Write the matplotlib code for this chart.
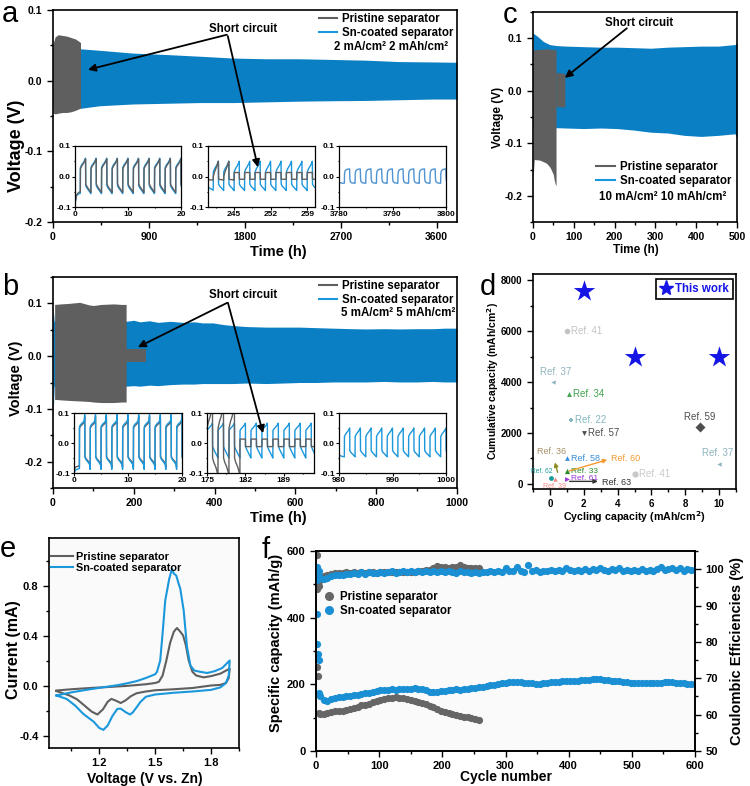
import numpy as np
import matplotlib.pyplot as plt
from matplotlib.lines import Line2D
from matplotlib.patches import ConnectionPatch
from matplotlib.ticker import MultipleLocator, FormatStrFormatter

plt.rcParams['font.family'] = ['Liberation Sans', 'DejaVu Sans']
plt.rcParams['font.weight'] = 'bold'
plt.rcParams['axes.labelweight'] = 'bold'
plt.rcParams['axes.linewidth'] = 1.2
plt.rcParams['axes.unicode_minus'] = False

GRAY = '#5f5f5f'
BLUE = '#0a7fc4'
LBLUE = '#1b97dc'
STAR = '#1515e6'

# ---------------- data ----------------
# a: 2 mA/cm2, envelope of the voltage profile (h, V)
a_gray_t = [0, 20, 50, 90, 130, 170, 210, 240, 258]
a_gray_up = [0.052, 0.062, 0.065, 0.064, 0.063, 0.061, 0.059, 0.056, 0.054]
a_gray_lo = [-0.046, -0.047, -0.046, -0.045, -0.045, -0.044, -0.042, -0.040, -0.039]
a_blue_t = [0, 265, 437, 750, 1062, 1375, 1688, 2000, 2312, 2625, 2937, 3250, 3562, 3790]
a_blue_up = [0.045, 0.045, 0.043, 0.039, 0.037, 0.0346, 0.032, 0.031, 0.031, 0.030, 0.029, 0.027, 0.0265, 0.026]
a_blue_lo = [-0.039, -0.039, -0.0355, -0.033, -0.032, -0.031, -0.031, -0.030, -0.029, -0.0284, -0.028, -0.027, -0.026, -0.026]

# b: 5 mA/cm2
b_gray_t = [4, 20, 40, 66, 90, 100, 120, 150, 170, 181]
b_gray_up = [0.098, 0.099, 0.100, 0.102, 0.097, 0.096, 0.098, 0.099, 0.098, 0.098]
b_gray_lo = [-0.082, -0.083, -0.084, -0.085, -0.086, -0.087, -0.088, -0.088, -0.087, -0.087]
b_short_t = [181, 231]
b_short_up = [0.013, 0.013]
b_short_lo = [-0.011, -0.011]
b_blue_t = [0, 3, 181, 200, 215, 239, 260, 290, 322, 350, 370, 396, 420, 445, 480, 528, 570, 610,
            650, 693, 740, 775, 820, 858, 900, 940, 970, 1000]
b_blue_up = [0.095, 0.066, 0.066, 0.068, 0.065, 0.067, 0.064, 0.066, 0.064, 0.065, 0.063, 0.063, 0.060,
             0.058, 0.056, 0.055, 0.055, 0.055, 0.054, 0.053, 0.052, 0.0515, 0.052, 0.0515, 0.052, 0.052,
             0.053, 0.053]
b_blue_lo = [-0.12, -0.057, -0.057, -0.056, -0.057, -0.055, -0.056, -0.054, -0.053, -0.053, -0.052, -0.052,
             -0.052, -0.052, -0.051, -0.052, -0.051, -0.050, -0.050, -0.049, -0.049, -0.049, -0.048,
             -0.049, -0.049, -0.048, -0.049, -0.049]

# c: 10 mA/cm2
c_gray_t = [0, 3, 16, 25, 33, 41, 45, 50, 52, 55, 56.5]
c_gray_up = [0.078, 0.078, 0.079, 0.079, 0.080, 0.079, 0.079, 0.078, 0.079, 0.078, 0.078]
c_gray_lo = [-0.170, -0.131, -0.132, -0.135, -0.138, -0.145, -0.151, -0.160, -0.170, -0.179, -0.180]
c_short_t = [56.5, 78]
c_short_up = [0.035, 0.033]
c_short_lo = [-0.030, -0.031]
c_blue_t = [0, 12, 25, 41, 58, 82, 124, 165, 206, 248, 289, 330, 371, 412, 454, 495, 500]
c_blue_up = [0.110, 0.103, 0.094, 0.088, 0.086, 0.085, 0.084, 0.083, 0.083, 0.082, 0.081, 0.083, 0.084,
             0.085, 0.085, 0.088, 0.091]
c_blue_lo = [-0.070, -0.070, -0.070, -0.070, -0.0704, -0.071, -0.072, -0.071, -0.072, -0.075, -0.079,
             -0.0805, -0.085, -0.087, -0.085, -0.082, -0.090]

# inset profiles: one 2 h cycle (plating half then stripping half), times within the cycle
cyc_t = [0, 0.02, 0.25, 0.6, 0.9, 0.98, 1.0, 1.02, 1.25, 1.6, 1.9, 2.0]
sq_t = [0, 0.02, 1.0, 1.02, 2.0]
rnd_t = [0, 0.03, 0.12, 0.4, 0.97, 1.0, 1.03, 1.12, 1.4, 1.97, 2.0]
half_t = [0, 0.3, 0.7, 1.0]

a1_blue_first = [-0.090, -0.062, -0.057, -0.055]
a1_gray_first = [-0.085, -0.060, -0.052, -0.050]
a1_blue = [-0.055, 0.030, 0.038, 0.046, 0.056, 0.060, 0.052, -0.030, -0.038, -0.046, -0.054, -0.056]
a1_gray = [-0.050, 0.025, 0.034, 0.043, 0.053, 0.058, 0.050, -0.025, -0.033, -0.042, -0.050, -0.052]
a2_blue_first = [-0.035, -0.038, -0.042, -0.045]
a2_blue = [-0.045, 0.015, 0.025, 0.035, 0.045, 0.050, 0.040, -0.025, -0.032, -0.038, -0.044, -0.046]
a2_gray_first = [-0.010, -0.011, -0.011, -0.012]
a2_gray = [-0.012, 0.000, 0.015, 0.030, 0.045, 0.050, 0.040, -0.008, -0.010, -0.010, -0.012, -0.012]
a2_short = [-0.009, 0.013, 0.013, -0.009, -0.009]
a3_blue_first = [-0.020, -0.021, -0.022, -0.022]
a3_blue = [-0.022, 0.008, 0.018, 0.023, 0.025, 0.012, -0.008, -0.017, -0.021, -0.022, -0.022]

b1_blue_first = [-0.100, -0.090, -0.087, -0.085]
b1_gray_first = [-0.090, -0.080, -0.078, -0.076]
b1_blue = [-0.085, 0.055, 0.062, 0.068, 0.075, 0.095, 0.088, -0.048, -0.056, -0.064, -0.072, -0.088]
b1_gray = [-0.078, 0.050, 0.057, 0.063, 0.070, 0.088, 0.080, -0.045, -0.053, -0.060, -0.068, -0.080]
b2_blue = [-0.050, 0.042, 0.048, 0.055, 0.062, 0.066, 0.060, -0.012, -0.022, -0.035, -0.046, -0.050]
b2_gray = [-0.090, 0.050, 0.070, 0.090, 0.120, 0.140, 0.120, -0.050, -0.065, -0.080, -0.100, -0.120]
b2_short = [-0.012, 0.013, 0.013, -0.012, -0.012]
b3_blue_first = [-0.040, -0.043, -0.045, -0.046]
b3_blue = [-0.046, 0.022, 0.030, 0.038, 0.046, 0.050, 0.045, -0.025, -0.032, -0.038, -0.044, -0.046]

# d: comparison
this_x = [2, 5, 10]
this_y = [7600, 5000, 5000]
ref_names = ['Ref. 41', 'Ref. 37', 'Ref. 34', 'Ref. 22', 'Ref. 57', 'Ref. 59', 'Ref. 37',
             'Ref. 58', 'Ref. 33', 'Ref. 61', 'Ref. 62', 'Ref. 39', 'Ref. 41']
ref_x = [1.0, 0.2, 1.1, 1.25, 2.0, 8.85, 10.0, 1.0, 1.0, 1.0, 0.05, 0.3, 5.0]
ref_y = [6000, 4000, 3550, 2500, 2000, 2220, 800, 1000, 500, 200, 240, 200, 400]
arrow_names = ['Ref. 60', 'Ref. 63', 'Ref. 36']
arrow_x0 = [1.0, 1.0, 0.5]
arrow_y0 = [480, 100, 350]
arrow_x1 = [3.55, 3.0, 0.25]
arrow_y1 = [980, 100, 950]

# e: CV curves (V vs Zn, mA)
cv_gray_v = [0.97, 1.05, 1.15, 1.25, 1.35, 1.45, 1.50, 1.52, 1.54, 1.56, 1.58, 1.60, 1.617, 1.635, 1.65,
             1.665, 1.68, 1.70, 1.72, 1.76, 1.80, 1.85, 1.90,
             1.895, 1.88, 1.85, 1.80, 1.70, 1.60, 1.50, 1.45, 1.40, 1.37, 1.34, 1.315, 1.29, 1.265,
             1.245, 1.22, 1.19, 1.16, 1.12, 1.08, 1.04, 1.00, 0.97]
cv_gray_i = [-0.040, -0.030, -0.020, -0.012, -0.003, 0.010, 0.020, 0.030, 0.080, 0.200, 0.340, 0.430,
             0.460, 0.430, 0.400, 0.320, 0.200, 0.110, 0.080, 0.065, 0.075, 0.095, 0.135,
             0.060, 0.020, 0.005, 0.000, -0.020, -0.030, -0.038, -0.048, -0.062, -0.085, -0.120, -0.140,
             -0.122, -0.107, -0.130, -0.190, -0.232, -0.210, -0.160, -0.110, -0.080, -0.060, -0.045]
cv_blue_v = [0.97, 1.05, 1.15, 1.25, 1.30, 1.35, 1.40, 1.45, 1.50, 1.51, 1.527, 1.54, 1.554, 1.575,
             1.59, 1.60, 1.613, 1.625, 1.635, 1.653, 1.671, 1.689, 1.71, 1.74, 1.78, 1.82, 1.86, 1.90,
             1.895, 1.88, 1.85, 1.80, 1.70, 1.60, 1.50, 1.45, 1.42, 1.40, 1.38, 1.365, 1.34, 1.315,
             1.297, 1.27, 1.245, 1.222, 1.20, 1.17, 1.114, 1.07, 1.024, 0.97]
cv_blue_i = [-0.080, -0.055, -0.030, -0.008, 0.003, 0.018, 0.035, 0.060, 0.090, 0.110, 0.200, 0.420,
             0.680, 0.850, 0.933, 0.895, 0.880, 0.820, 0.773, 0.600, 0.307, 0.160, 0.120, 0.110, 0.100,
             0.115, 0.140, 0.200,
             0.080, 0.020, -0.015, -0.035, -0.048, -0.058, -0.072, -0.090, -0.133, -0.175, -0.215,
             -0.232, -0.212, -0.185, -0.187, -0.245, -0.320, -0.355, -0.340, -0.290, -0.227, -0.160,
             -0.107, -0.080]

# f: cycling
f_gray_early_n = [1, 2, 3, 4]
f_gray_early_cap = [587, 252, 225, 115]
f_gray_early_ce_n = [2, 4, 8]
f_gray_early_ce = [94.5, 95.5, 97.8]
f_gray_n = np.arange(6, 259, 6)
f_gray_cap = [112, 110, 114, 117, 120, 119, 121, 123, 125, 128,
              133, 137, 139, 142, 147, 151, 154, 157, 159, 160,
              161, 160, 159, 156, 153, 150, 146, 143, 140, 136,
              131, 127, 121, 118, 114, 112, 109, 105, 102, 101,
              98, 96, 93]
f_gray_ce = [97.0, 98.0, 98.5, 98.8, 98.9, 99.0, 99.0, 99.1, 99.0, 99.1,
             99.0, 99.1, 99.0, 99.2, 99.1, 99.0, 99.2, 99.1, 99.2, 99.2,
             99.1, 99.2, 99.3, 99.2, 99.3, 99.3, 99.4, 99.5, 99.7, 99.9,
             100.3, 100.8, 100.6, 100.5, 100.4, 100.5, 100.7, 101.1, 100.6, 100.4,
             100.3, 100.4, 100.2]
f_blue_early_n = [1, 2, 3, 4, 5]
f_blue_early_cap = [410, 322, 292, 272, 175]
f_blue_early_ce = [100.5, 97.0, 98.5, 99.5, 98.0]
f_blue_n = np.arange(6, 601, 6)
f_blue_cap = [165, 152, 150, 156, 160, 162, 161, 164, 165, 167,
              168, 170, 173, 175, 178, 181, 182, 184, 183, 185,
              184, 186, 187, 186, 187, 188, 187, 186, 182, 178,
              176, 177, 179, 181, 182, 184, 185, 184, 186, 187,
              188, 190, 192, 193, 194, 197, 198, 200, 203, 205,
              206, 207, 208, 206, 205, 204, 203, 202, 201, 203,
              204, 206, 207, 208, 209, 210, 210, 211, 211, 212,
              213, 214, 215, 216, 217, 214, 212, 211, 210, 210,
              208, 206, 205, 204, 204, 203, 204, 204, 203, 204,
              205, 206, 207, 206, 205, 204, 203, 202, 201, 200]
f_blue_ce = [97.5, 97.2, 97.6, 98.0, 98.3, 98.5, 98.4, 98.8, 98.6, 99.0,
             98.7, 99.1, 98.8, 99.2, 98.9, 99.0, 99.3, 98.9, 99.2, 99.4,
             99.0, 99.3, 99.5, 99.1, 99.4, 99.2, 99.5, 99.3, 99.6, 99.2,
             99.4, 99.1, 99.5, 99.3, 99.6, 99.2, 99.0, 99.4, 99.1, 99.3,
             99.0, 99.2, 98.9, 99.3, 99.1, 99.4, 99.2, 99.5, 99.3, 100.2,
             99.4, 99.6, 100.5, 99.5, 99.2, 101.2, 99.4, 99.7, 99.3, 99.6,
             99.4, 99.8, 99.5, 99.9, 99.6, 100.3, 99.7, 99.4, 99.8, 99.5,
             100.0, 99.6, 100.1, 99.7, 100.3, 99.8, 99.5, 100.0, 99.7, 100.2,
             99.6, 99.9, 99.5, 99.8, 99.6, 100.0, 99.4, 99.8, 99.6, 100.1,
             100.5, 99.7, 100.0, 100.4, 99.8, 100.2, 99.6, 100.0, 99.7, 99.9]


def repeat_cycle(start, n, rel_t, rel_v):
    t = np.concatenate([start + 2 * k + np.asarray(rel_t, float) for k in range(n)])
    return t, np.tile(rel_v, n)


def join(*parts):
    return (np.concatenate([np.asarray(p[0], float) for p in parts]),
            np.concatenate([np.asarray(p[1], float) for p in parts]))


# ---------------- layout ----------------
fig = plt.figure(figsize=(7.5, 7.86), dpi=100)
W, H = 750.0, 786.0


def box(l, t, r, b):
    return [l / W, 1 - b / H, (r - l) / W, (b - t) / H]


def style(ax, fs):
    ax.tick_params(which='both', direction='out', labelsize=fs, width=1.0, top=False, right=False)
    ax.tick_params(which='major', length=4)
    ax.tick_params(which='minor', length=2)


def arrow(ax, p0, p1):
    fig.add_artist(ConnectionPatch(xyA=p0, coordsA=ax.transData, xyB=p1, coordsB=ax.transData,
                                   arrowstyle='-|>', mutation_scale=11, lw=1.3, color='k', zorder=5))


def inset(rect, xlim, xmaj, xmin, curves):
    ax = fig.add_axes(rect)
    for (t, v, c) in curves:
        ax.plot(t, v, color=c, lw=1.0)
    ax.set_xlim(*xlim)
    ax.set_ylim(-0.1, 0.1)
    ax.xaxis.set_major_locator(MultipleLocator(xmaj))
    ax.xaxis.set_minor_locator(MultipleLocator(xmin))
    ax.yaxis.set_major_locator(MultipleLocator(0.1))
    ax.yaxis.set_minor_locator(MultipleLocator(0.05))
    ax.yaxis.set_major_formatter(FormatStrFormatter('%.1f'))
    ax.tick_params(which='both', direction='out', labelsize=6, width=0.8, pad=1)
    ax.tick_params(which='major', length=2)
    ax.tick_params(which='minor', length=1)
    for s in ax.spines.values():
        s.set_linewidth(0.9)
    return ax


def legend_lines(ax, anchor, loc, fs):
    h = [Line2D([], [], color=GRAY, lw=1.5), Line2D([], [], color=LBLUE, lw=1.5)]
    ax.legend(h, ['Pristine separator', 'Sn-coated separator'], loc=loc, bbox_to_anchor=anchor,
              frameon=False, fontsize=fs, handlelength=1.6, handletextpad=0.4, labelspacing=0.15,
              borderaxespad=0, borderpad=0)


# ---- a
ax = fig.add_axes(box(53, 10, 457, 222))
ax.fill_between(a_blue_t, a_blue_lo, a_blue_up, color=BLUE, lw=0)
ax.fill_between(a_gray_t, a_gray_lo, a_gray_up, color=GRAY, lw=0)
ax.set_xlim(0, 3790)
ax.set_ylim(-0.2, 0.1)
ax.xaxis.set_major_locator(MultipleLocator(900))
ax.xaxis.set_minor_locator(MultipleLocator(450))
ax.yaxis.set_major_locator(MultipleLocator(0.1))
ax.yaxis.set_minor_locator(MultipleLocator(0.05))
ax.yaxis.set_major_formatter(FormatStrFormatter('%.1f'))
style(ax, 7.5)
ax.set_xlabel('Time (h)', fontsize=10.5)
ax.xaxis.set_label_coords(0.557, -0.11)
ax.set_ylabel('Voltage (V)', fontsize=13)
ax.yaxis.set_label_coords(-0.069, 0.36)
legend_lines(ax, (0.99, 0.985), 'upper right', 8.3)
ax.text(0.978, 0.825, '2 mA/cm² 2 mAh/cm²', transform=ax.transAxes, ha='right', va='center', fontsize=8.3)
ax.text(1781, 0.073, 'Short circuit', ha='center', va='center', fontsize=8.3)
arrow(ax, (1631, 0.065), (328, 0.0155))
arrow(ax, (1640, 0.063), (1922, -0.1225))

inset(box(75, 146, 181, 207), (0, 20), 10, 5,
      [join((half_t, a1_blue_first), repeat_cycle(1, 10, cyc_t, a1_blue)) + (LBLUE,),
       join((half_t, a1_gray_first), repeat_cycle(1, 10, cyc_t, a1_gray)) + (GRAY,)])
inset(box(208, 146, 315, 207), (240, 260.5), 7, 3.5,
      [join((np.add(half_t, 240), a2_blue_first), repeat_cycle(241, 10, cyc_t, a2_blue)) + (LBLUE,),
       join((np.add(half_t, 240), a2_gray_first), repeat_cycle(241, 2, cyc_t, a2_gray),
            repeat_cycle(245, 8, sq_t, a2_short)) + (GRAY,)]).set_xticks([245, 252, 259])
inset(box(339, 146, 446, 207), (3780, 3800), 10, 5,
      [join((np.add(half_t, 3780), a3_blue_first), repeat_cycle(3781, 10, rnd_t, a3_blue)) + ('#4f93d2',)])

# ---- b
ax = fig.add_axes(box(53, 277, 457, 488))
ax.fill_between(b_blue_t, b_blue_lo, b_blue_up, color=BLUE, lw=0)
ax.fill_between(b_gray_t, b_gray_lo, b_gray_up, color=GRAY, lw=0)
ax.fill_between(b_short_t, b_short_lo, b_short_up, color=GRAY, lw=0)
ax.set_xlim(0, 1000)
ax.set_ylim(-0.25, 0.15)
ax.xaxis.set_major_locator(MultipleLocator(200))
ax.xaxis.set_minor_locator(MultipleLocator(100))
ax.yaxis.set_major_locator(MultipleLocator(0.1))
ax.yaxis.set_minor_locator(MultipleLocator(0.05))
ax.yaxis.set_major_formatter(FormatStrFormatter('%.1f'))
style(ax, 7.5)
ax.set_xlabel('Time (h)', fontsize=10.5)
ax.xaxis.set_label_coords(0.557, -0.11)
ax.set_ylabel('Voltage (V)', fontsize=10.5)
ax.yaxis.set_label_coords(-0.074, 0.52)
legend_lines(ax, (0.99, 0.985), 'upper right', 8.3)
ax.text(0.995, 0.829, '5 mA/cm² 5 mAh/cm²', transform=ax.transAxes, ha='right', va='center', fontsize=8.3)
ax.text(470, 0.116, 'Short circuit', ha='center', va='center', fontsize=8.3)
arrow(ax, (431, 0.101), (210, 0.017))
arrow(ax, (433, 0.101), (520, -0.146))

inset(box(74, 413, 182, 473), (0, 20), 10, 5,
      [join((half_t, b1_gray_first), repeat_cycle(1, 10, cyc_t, b1_gray)) + (GRAY,),
       join((half_t, b1_blue_first), repeat_cycle(1, 10, cyc_t, b1_blue)) + (LBLUE,)])
inset(box(207, 413, 314, 473), (175, 194.5), 7, 3.5,
      [repeat_cycle(175, 10, cyc_t, b2_blue) + (LBLUE,),
       join(repeat_cycle(175, 3, cyc_t, b2_gray), repeat_cycle(181, 7, sq_t, b2_short)) + (GRAY,)])
inset(box(339, 413, 446, 473), (980, 1000), 10, 5,
      [join((np.add(half_t, 980), b3_blue_first), repeat_cycle(981, 10, cyc_t, b3_blue)) + (LBLUE,)])

# ---- c
ax = fig.add_axes(box(533, 12, 737, 222))
ax.fill_between(c_blue_t, c_blue_lo, c_blue_up, color=BLUE, lw=0)
ax.fill_between(c_gray_t, c_gray_lo, c_gray_up, color=GRAY, lw=0)
ax.fill_between(c_short_t, c_short_lo, c_short_up, color=GRAY, lw=0)
ax.set_xlim(0, 500)
ax.set_ylim(-0.25, 0.15)
ax.xaxis.set_major_locator(MultipleLocator(100))
ax.xaxis.set_minor_locator(MultipleLocator(50))
ax.yaxis.set_major_locator(MultipleLocator(0.1))
ax.yaxis.set_minor_locator(MultipleLocator(0.05))
ax.yaxis.set_major_formatter(FormatStrFormatter('%.1f'))
style(ax, 7.5)
ax.set_xlabel('Time (h)', fontsize=8.5)
ax.xaxis.set_label_coords(0.505, -0.105)
ax.set_ylabel('Voltage (V)', fontsize=8.5)
ax.yaxis.set_label_coords(-0.14, 0.5)
legend_lines(ax, (0.97, 0.29), 'upper right', 8.3)
ax.text(0.637, 0.119, '10 mA/cm² 10 mAh/cm²', transform=ax.transAxes, ha='center', va='center', fontsize=8.3)
ax.text(260, 0.130, 'Short circuit', ha='center', va='center', fontsize=8.3)
arrow(ax, (230, 0.119), (78, 0.0245))

# ---- d
ax = fig.add_axes(box(533, 274, 736, 489))
ref_marker = ['o', '<', '^', 'P', 'v', 'D', '<', '^', '^', '>', 'o', '^', 'o']
ref_color = ['#c3c3c3', '#8fb4c0', '#3fa34d', '#82b8c0', '#4d4d4d', '#4d4d4d', '#8fb4c0',
             '#3a8fd8', '#2a8a2a', '#9b35d6', '#1a9c9c', '#f08a8a', '#c8c8c8']
ref_size = [16, 10, 12, 12, 12, 26, 10, 12, 14, 12, 12, 10, 20]
ref_off = [(3, 0), (2, 4), (3, 0), (3, 0), (3, 0), (0, 4), (-1, 4), (3, 0), (3, 0), (3, 0), (1, 2), (0, -3), (3, 0)]
ref_ha = ['left', 'center', 'left', 'left', 'left', 'center', 'center', 'left', 'left', 'left', 'right', 'center', 'left']
ref_va = ['center', 'bottom', 'center', 'center', 'center', 'bottom', 'bottom', 'center', 'center', 'center',
          'bottom', 'top', 'center']
ref_fs = [7, 7, 7, 7, 7, 7, 7, 6.5, 6, 6, 4.8, 5, 7]
for i in range(len(ref_names)):
    ax.scatter(ref_x[i], ref_y[i], marker=ref_marker[i], color=ref_color[i], s=ref_size[i], lw=0, zorder=3)
    ax.annotate(ref_names[i], (ref_x[i], ref_y[i]), xytext=ref_off[i], textcoords='offset points',
                ha=ref_ha[i], va=ref_va[i], fontsize=ref_fs[i], color=ref_color[i], fontweight='normal')
arrow_color = ['#f39a2e', '#333333', '#8a8a20']
arrow_text_color = ['#f39a2e', '#333333', '#a5906a']
arrow_off = [(1, 0), (1, -1), (-2, 3)]
arrow_ha = ['left', 'left', 'center']
arrow_va = ['center', 'center', 'bottom']
for i in range(len(arrow_names)):
    ax.annotate('', xy=(arrow_x1[i], arrow_y1[i]), xytext=(arrow_x0[i], arrow_y0[i]),
                arrowprops=dict(arrowstyle='-|>', color=arrow_color[i], lw=1.0, mutation_scale=6))
    ax.annotate(arrow_names[i], (arrow_x1[i], arrow_y1[i]), xytext=arrow_off[i], textcoords='offset points',
                ha=arrow_ha[i], va=arrow_va[i], fontsize=6.5, color=arrow_text_color[i], fontweight='normal')
ax.scatter(this_x, this_y, marker='*', color=STAR, s=260, lw=0, zorder=4)
leg = ax.legend([Line2D([], [], marker='*', ls='', color=STAR, ms=11)], ['This work'], loc='upper right',
                bbox_to_anchor=(0.985, 0.975), borderaxespad=0, fancybox=False, edgecolor='k',
                fontsize=8.3, handletextpad=0.3, handlelength=1.0, borderpad=0.35, framealpha=1)
leg.get_frame().set_linewidth(1.2)
for tx in leg.get_texts():
    tx.set_color(STAR)
ax.set_xlim(-1, 11)
ax.set_ylim(-200, 8250)
ax.xaxis.set_major_locator(MultipleLocator(2))
ax.xaxis.set_minor_locator(MultipleLocator(1))
ax.yaxis.set_major_locator(MultipleLocator(2000))
ax.yaxis.set_minor_locator(MultipleLocator(1000))
style(ax, 7)
ax.set_xlabel('Cycling capacity (mAh/cm$^\\mathbf{2}$)', fontsize=7.7)
ax.xaxis.set_label_coords(0.5, -0.095)
ax.set_ylabel('Cumulative capacity (mAh/cm$^\\mathbf{2}$)', fontsize=7.5)
ax.yaxis.set_label_coords(-0.16, 0.5)

# ---- e
ax = fig.add_axes(box(49, 538, 239, 748))
ax.set_facecolor('#fafafa')
ax.plot(cv_gray_v, cv_gray_i, color=GRAY, lw=1.5, label='Pristine separator')
ax.plot(cv_blue_v, cv_blue_i, color=LBLUE, lw=1.5, label='Sn-coated separator')
ax.set_xlim(0.93, 1.95)
ax.set_ylim(-0.5, 1.18)
ax.xaxis.set_major_locator(MultipleLocator(0.3))
ax.xaxis.set_minor_locator(MultipleLocator(0.15))
ax.yaxis.set_major_locator(MultipleLocator(0.4))
ax.yaxis.set_minor_locator(MultipleLocator(0.2))
ax.xaxis.set_major_formatter(FormatStrFormatter('%.1f'))
ax.yaxis.set_major_formatter(FormatStrFormatter('%.1f'))
style(ax, 8)
ax.legend(loc='upper left', bbox_to_anchor=(0.01, 0.935), frameon=False, fontsize=7.8, handlelength=2.0,
          handletextpad=0.3, labelspacing=0.15, borderaxespad=0, borderpad=0)
ax.set_xlabel('Voltage (V vs. Zn)', fontsize=10)
ax.xaxis.set_label_coords(0.505, -0.115)
ax.set_ylabel('Current (mA)', fontsize=11.5)
ax.yaxis.set_label_coords(-0.147, 0.467)

# ---- f
ax = fig.add_axes(box(316, 551, 695, 751))
ax.set_facecolor('#fafafa')
ax2 = ax.twinx()
ms = 27
ax.scatter(f_gray_early_n, f_gray_early_cap, s=ms, color='#666666', lw=0)
ax.scatter(f_gray_n, f_gray_cap, s=ms, color='#666666', lw=0)
ax.scatter(f_blue_early_n, f_blue_early_cap, s=ms, color='#1a8fd3', lw=0)
ax.scatter(f_blue_n, f_blue_cap, s=ms, color='#1a8fd3', lw=0)
ax2.scatter(f_gray_early_ce_n, f_gray_early_ce, s=ms, color='#666666', lw=0)
ax2.scatter(f_gray_n, f_gray_ce, s=ms, color='#666666', lw=0)
ax2.scatter(f_blue_early_n, f_blue_early_ce, s=ms, color='#1a8fd3', lw=0)
ax2.scatter(f_blue_n, f_blue_ce, s=ms, color='#1a8fd3', lw=0)
ax.set_xlim(0, 600)
ax.set_ylim(0, 600)
ax2.set_ylim(50, 105)
ax.xaxis.set_major_locator(MultipleLocator(100))
ax.xaxis.set_minor_locator(MultipleLocator(50))
ax.yaxis.set_major_locator(MultipleLocator(200))
ax.yaxis.set_minor_locator(MultipleLocator(100))
ax2.yaxis.set_major_locator(MultipleLocator(10))
ax2.yaxis.set_minor_locator(MultipleLocator(5))
style(ax, 8)
ax2.tick_params(which='both', direction='out', labelsize=8, width=1.0)
ax2.tick_params(which='major', length=4)
ax2.tick_params(which='minor', length=2)
h = [Line2D([], [], marker='o', ls='', color='#666666', ms=5.5),
     Line2D([], [], marker='o', ls='', color='#1a8fd3', ms=5.5)]
ax.legend(h, ['Pristine separator', 'Sn-coated separator'], loc='upper left', bbox_to_anchor=(0.02, 0.8),
          frameon=False, fontsize=8.3, handlelength=1.0, handletextpad=0.4, labelspacing=0.2,
          borderaxespad=0, borderpad=0)
ax.set_xlabel('Cycle number', fontsize=10)
ax.xaxis.set_label_coords(0.5, -0.095)
ax.set_ylabel('Specific capacity (mAh/g)', fontsize=10.5)
ax.yaxis.set_label_coords(-0.087, 0.54)
ax2.set_ylabel('Coulombic Efficiencies (%)', fontsize=10.5, labelpad=4)

# panel letters
for s, x, y in [('a', 2, 22), ('c', 503, 23), ('b', 2, 295), ('d', 480, 295), ('e', 0, 557), ('f', 262, 558)]:
    fig.text(x / W, 1 - y / H, s, fontsize=21, fontweight='normal', va='baseline', ha='left')

fig.savefig('out.png', dpi=100)
